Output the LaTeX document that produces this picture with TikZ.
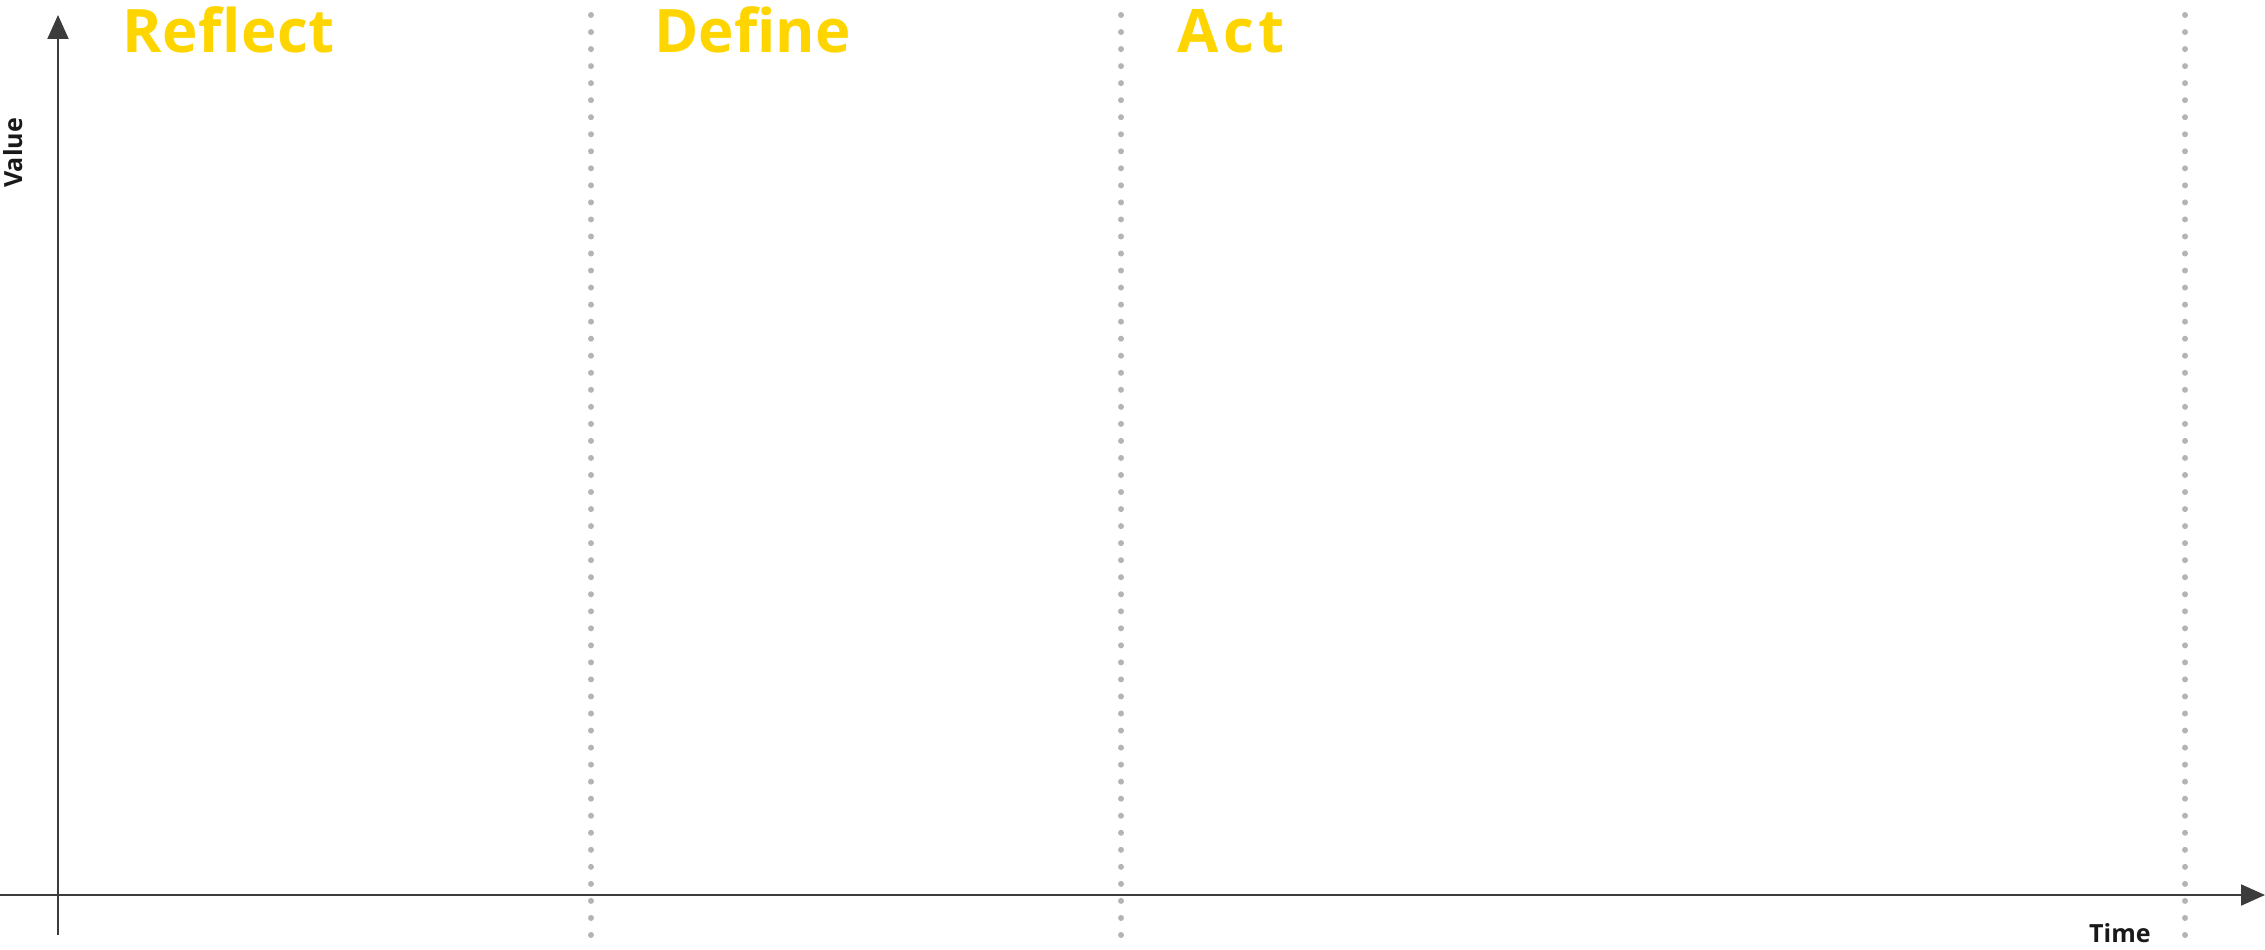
\documentclass[tikz,border=0pt]{standalone}
\usepackage{fontspec}
\setmainfont{Open Sans}[Ligatures=CommonOff]
\usetikzlibrary{arrows.meta}
\definecolor{axisgray}{HTML}{3C3C3C}
\definecolor{dotgray}{HTML}{B4B4B4}
\definecolor{phaseyellow}{HTML}{FFD500}
\tikzset{
  axisline/.style={draw=axisgray, line width=2pt},
  axisarrow/.style={-{Triangle[length=24pt,width=21pt]}},
  dotline/.style={draw=dotgray, line width=6pt, line cap=round, dash pattern=on 0pt off 17.037pt},
  phasetitle/.style={text=phaseyellow, font=\fontsize{60}{60}\selectfont\bfseries, inner sep=0pt, anchor=base west},
  axislabel/.style={text=black!90, font=\fontsize{25}{25}\selectfont\bfseries, inner sep=0pt}
}
\begin{document}
\begin{tikzpicture}[x=1pt,y=-1pt]
\useasboundingbox (0,0) rectangle (2265,950);
% dotted dividers
\foreach \xx/\nm in {591/d1,1121/d2,2185/d3}{
  \coordinate (\nm top) at (\xx,15);
  \coordinate (\nm bot) at (\xx,935.1);
  \draw[dotline] (\nm top) -- (\nm bot);
}
% axes
\coordinate (yb) at (58,935);
\coordinate (yt) at (58,15);
\coordinate (xl) at (0,895);
\coordinate (xr) at (2265,895);
\draw[axisline,axisarrow] (yb) -- (yt);
\draw[axisline,axisarrow] (xl) -- (xr);
% titles
\node[phasetitle] (reflect) at (122,53) {\addfontfeature{LetterSpace=1}Reflect};
\node[phasetitle] (define) at (654,53) {Define};
\node[phasetitle] (act) at (1177,53) {\addfontfeature{LetterSpace=8}Act};
% axis labels
\node[axislabel, rotate=90, anchor=base west] (value) at (22,188) {Value};
\node[axislabel, anchor=base west] (time) at (2089,942) {Time};
\end{tikzpicture}
\end{document}
